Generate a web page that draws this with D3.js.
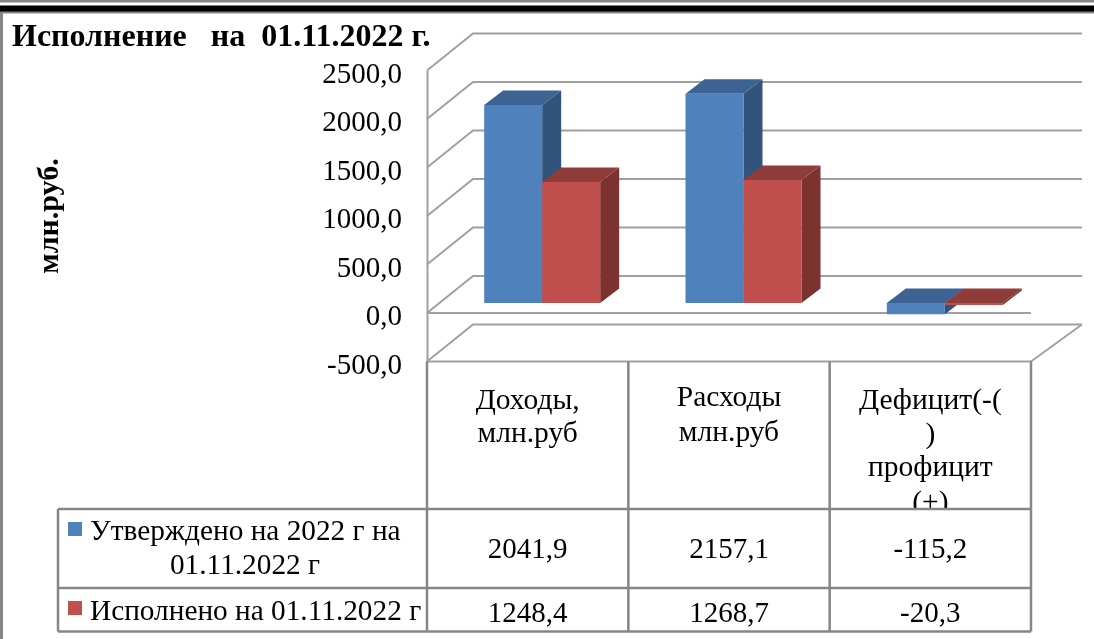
<!DOCTYPE html>
<html>
<head>
<meta charset="utf-8">
<script src="https://cdn.jsdelivr.net/npm/d3@7"></script>
<style>
  html, body { margin: 0; padding: 0; background: #fff; }
  svg { display: block; }
  text { font-family: "Liberation Serif", serif; fill: #000; }
</style>
</head>
<body>
<div id="chart"></div>
<script>
var categories = [["Доходы,", "млн.руб"], ["Расходы", "млн.руб"], ["Дефицит(-(", ")", "профицит", "(+)"]];
var approved = [2041.9, 2157.1, -115.2];
var executed = [1248.4, 1268.7, -20.3];
var yTicks = [-500, 0, 500, 1000, 1500, 2000, 2500];
var title = "Исполнение   на  01.11.2022 г.";
var yTitle = "млн.руб.";

var width = 1094, height = 639;
var lineGray = "#868686", gridGray = "#a0a0a0";

var svg = d3.select("#chart")
  .append("svg")
  .attr("width", width)
  .attr("height", height);

var defs = svg.append("defs");
var blur = defs.append("filter")
  .attr("id", "soft")
  .attr("x", "-5%").attr("y", "-5%").attr("width", "110%").attr("height", "110%");
blur.append("feGaussianBlur").attr("stdDeviation", 0.45);

var root = svg.append("g").attr("filter", "url(#soft)");

function fmt(v) { return v.toFixed(1).replace(".", ","); }

// front plane of the fake 3d box
var y = d3.scaleLinear().domain([-500, 2500]).range([361.5, 70.5]);
var x = d3.scaleBand().domain(d3.range(categories.length)).range([427, 1031]);

var depthX = 46, depthY = -37, backRight = 1082;

// category labels stop at the first table rule
defs.append("clipPath").attr("id", "catClip")
  .append("rect").attr("x", x(0)).attr("y", y(-500)).attr("width", 604).attr("height", 509 - y(-500));

// page frame
root.append("rect").attr("x", 0).attr("y", 0).attr("width", width).attr("height", 2.5).attr("fill", lineGray);
root.append("rect").attr("x", 0).attr("y", 5.5).attr("width", width).attr("height", 6.5).attr("fill", "#000");
root.append("rect").attr("x", 0).attr("y", 11.5).attr("width", width).attr("height", 2).attr("fill", lineGray);
root.append("rect").attr("x", 0).attr("y", 12).attr("width", 3).attr("height", height).attr("fill", lineGray);

// grid: side wall slant and back wall line for every tick
var grid = root.append("g").attr("fill", "none").attr("stroke", gridGray).attr("stroke-width", 2);
yTicks.forEach(function (t) {
  grid.append("path")
    .attr("d", d3.line()([[427, y(t)], [427 + depthX, y(t) + depthY], [backRight, y(t) + depthY]]));
});
// floor
grid.append("path").attr("d", d3.line()([[1031, y(-500)], [backRight, y(-500) + depthY]]));
grid.append("path").attr("d", d3.line()([[427, y(-500)], [1031, y(-500)]]));
// zero plane front edge
grid.append("path").attr("d", d3.line()([[427, y(0)], [1031, y(0)]]));

// vertical axis line and tick labels
var yAxis = d3.axisLeft(y).tickValues(yTicks).tickSize(0).tickPadding(25).tickFormat(fmt);
var yG = root.append("g").attr("transform", "translate(427,0)").call(yAxis);
yG.select(".domain").attr("stroke", gridGray).attr("stroke-width", 2);
yG.selectAll("text")
  .attr("y", 2.5)
  .attr("font-size", 29)
  .attr("font-family", "Liberation Serif")
  .attr("fill", "#000");

// bars, blue then red so the red top sits over the blue side
var barW = 58, barDX = 19, barDY = -14.5, frontDX = 14.5, frontDY = -10;
var series = [
  { values: approved, off: -barW, front: "#4f81bd", top: "#3c6494", side: "#31527c" },
  { values: executed, off: 0, front: "#c0504d", top: "#8f3c3a", side: "#7b302e" }
];
var line = d3.line();
categories.forEach(function (c, i) {
  series.forEach(function (s) {
    var left = x(i) + x.bandwidth() / 2 + frontDX + s.off;
    var right = left + barW;
    var y0 = y(0) + frontDY, y1 = y(s.values[i]) + frontDY;
    var up = Math.min(y0, y1), down = Math.max(y0, y1);
    var bar = root.append("g");
    bar.append("path").attr("fill", s.side)
      .attr("d", line([[right, up], [right + barDX, up + barDY], [right + barDX, down + barDY], [right, down]]) + "Z");
    bar.append("path").attr("fill", s.top)
      .attr("d", line([[left, up], [left + barDX, up + barDY], [right + barDX, up + barDY], [right, up]]) + "Z");
    bar.append("path").attr("fill", s.front)
      .attr("d", line([[left, up], [right, up], [right, down], [left, down]]) + "Z");
  });
});

// category labels
var catBase = [[409, 442], [406, 441], [409, 443, 476, 511]];
var catG = root.append("g").attr("clip-path", "url(#catClip)");
categories.forEach(function (c, i) {
  c.forEach(function (t, k) {
    catG.append("text")
      .attr("x", x(i) + x.bandwidth() / 2)
      .attr("y", catBase[i][k])
      .attr("text-anchor", "middle")
      .attr("font-size", 29.5)
      .text(t);
  });
});

// data table
var tableX = 58, rowLines = [509, 588, 631.5];
var table = root.append("g").attr("stroke", lineGray).attr("stroke-width", 2.5).attr("fill", "none");
d3.range(categories.length + 1).forEach(function (i) {
  var px = i < categories.length ? x(i) : 1031;
  table.append("path").attr("d", line([[px, y(-500)], [px, rowLines[2]]]));
});
table.append("path").attr("d", line([[tableX, rowLines[0]], [tableX, rowLines[2]]]));
rowLines.forEach(function (r) {
  table.append("path").attr("d", line([[tableX, r], [1031, r]]));
});

// values in the table
[[approved, 558], [executed, 622]].forEach(function (row) {
  row[0].forEach(function (v, i) {
    root.append("text")
      .attr("x", x(i) + x.bandwidth() / 2)
      .attr("y", row[1])
      .attr("text-anchor", "middle")
      .attr("font-size", 29)
      .text(fmt(v));
  });
});

// legend keys and row names
root.append("rect").attr("x", 68).attr("y", 522).attr("width", 14).attr("height", 14).attr("fill", series[0].front);
root.append("rect").attr("x", 68).attr("y", 601).attr("width", 14).attr("height", 14).attr("fill", series[1].front);
root.append("text").attr("x", 90).attr("y", 540).attr("font-size", 29.3).text("Утверждено на 2022 г на");
root.append("text").attr("x", 245).attr("y", 574).attr("text-anchor", "middle").attr("font-size", 29.3).text("01.11.2022 г");
root.append("text").attr("x", 90).attr("y", 620).attr("font-size", 29.3).text("Исполнено на 01.11.2022 г");

// titles
root.append("text").attr("x", 12).attr("y", 46)
  .attr("xml:space", "preserve").style("white-space", "pre")
  .attr("font-size", 32).attr("font-weight", "bold").text(title);
root.append("text")
  .attr("transform", "translate(58,216) rotate(-90)")
  .attr("text-anchor", "middle")
  .attr("font-size", 30).attr("font-weight", "bold").text(yTitle);
</script>
</body>
</html>
